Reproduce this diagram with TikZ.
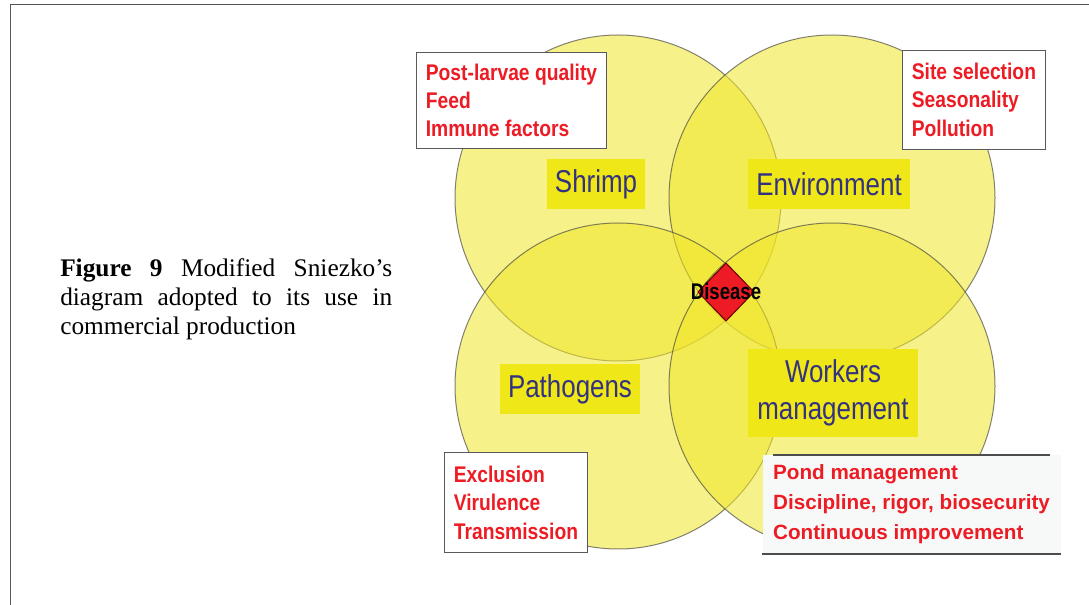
\documentclass[tikz,border=0pt]{standalone}
\usepackage{fontspec}
\setmainfont{Liberation Serif}
\newfontfamily\narrowfont[FakeStretch=0.82]{Liberation Sans}
\newfontfamily\factfont[FakeStretch=0.85]{Liberation Sans}
\newfontfamily\plainsans{Liberation Sans}

\definecolor{ringfill}{RGB}{240,230,40}
\definecolor{labfill}{RGB}{240,231,24}
\definecolor{labtext}{RGB}{50,50,128}
\definecolor{factred}{RGB}{237,28,36}
\definecolor{framegray}{RGB}{85,85,85}

\tikzset{
  ring/.style={fill=ringfill, fill opacity=0.55, draw=black!75, draw opacity=0.65, line width=0.75},
  lbl/.style={fill=labfill, text=labtext, inner xsep=6.3pt, inner ysep=0pt, minimum height=38pt,
    font=\narrowfont\fontsize{23.7}{28}\selectfont},
  factbox/.style={draw=black!65, fill=white, text=factred, anchor=north west, align=left,
    inner xsep=7pt, line width=0.75, font=\factfont\bfseries\fontsize{17}{21.3}\selectfont},
  captext/.style={anchor=base west, inner sep=0pt, font=\fontsize{19}{21.75}\selectfont}
}

\begin{document}
\begin{tikzpicture}[x=0.75pt,y=0.75pt,yscale=-1]
\useasboundingbox (0,0) rectangle (1089,605);

%Frame
\draw [framegray, line width=1] (10.5,605) -- (10.5,4.5) -- (1089,4.5) ;

%Shape: Circles
\draw [ring] (618,198) circle (163) ;
\draw [ring] (832,198) circle (163) ;
\draw [ring] (618,386) circle (163) ;
\draw [ring] (832,386) circle (163) ;

%Shape: Diamond
\draw [fill=factred, draw=black!60!red, line width=0.75] (726,263) -- (754,292) -- (726,321) -- (698,292) -- cycle ;
\draw (726,291) node (disease) [inner sep=0pt, font=\narrowfont\bfseries\fontsize{17}{20}\selectfont] {Disease};

% Text Node: circle labels
\draw (596,184) node (shrimp) [lbl] {Shrimp};
\draw (829,184) node (environment) [lbl] {Environment};
\draw (570,389) node (pathogens) [lbl] {Pathogens};
\draw (833,393) node (workers) [lbl, align=center, minimum width=127.5pt, minimum height=66pt] {Workers\\management};

% Text Node: factor boxes
\draw (416,52) node (hostbox) [factbox, minimum height=72pt] {Post-larvae quality\\Feed\\Immune factors};
\draw (902,50) node (sitebox) [factbox, minimum height=74pt] {Site selection\\Seasonality\\Pollution};
\draw (444,452) node (germbox) [factbox, minimum height=75pt] {Exclusion\\Virulence\\Transmission};
\draw (762,455) node (pondbox) [factbox, draw=none, fill={rgb,255:red,247;green,249;blue,249}, inner xsep=8pt, minimum height=73.5pt,
  font=\plainsans\bfseries\fontsize{15.5}{22.5}\selectfont] {Pond management\\Discipline, rigor, biosecurity\\Continuous improvement};
\draw [black!70, line width=0.9] ([xshift=8]pondbox.north west) -- ([xshift=-8]pondbox.north east) ;
\draw [black!70, line width=0.9] (pondbox.south west) -- (pondbox.south east) ;

% Text Node: caption
\draw (60,277) node (cap1) [captext] {\makebox[249pt][s]{\textbf{Figure 9} Modified Sniezko’s}};
\draw (60,306) node (cap2) [captext] {\makebox[249pt][s]{diagram adopted to its use in}};
\draw (60,335) node (cap3) [captext] {commercial production};

\end{tikzpicture}
\end{document}
